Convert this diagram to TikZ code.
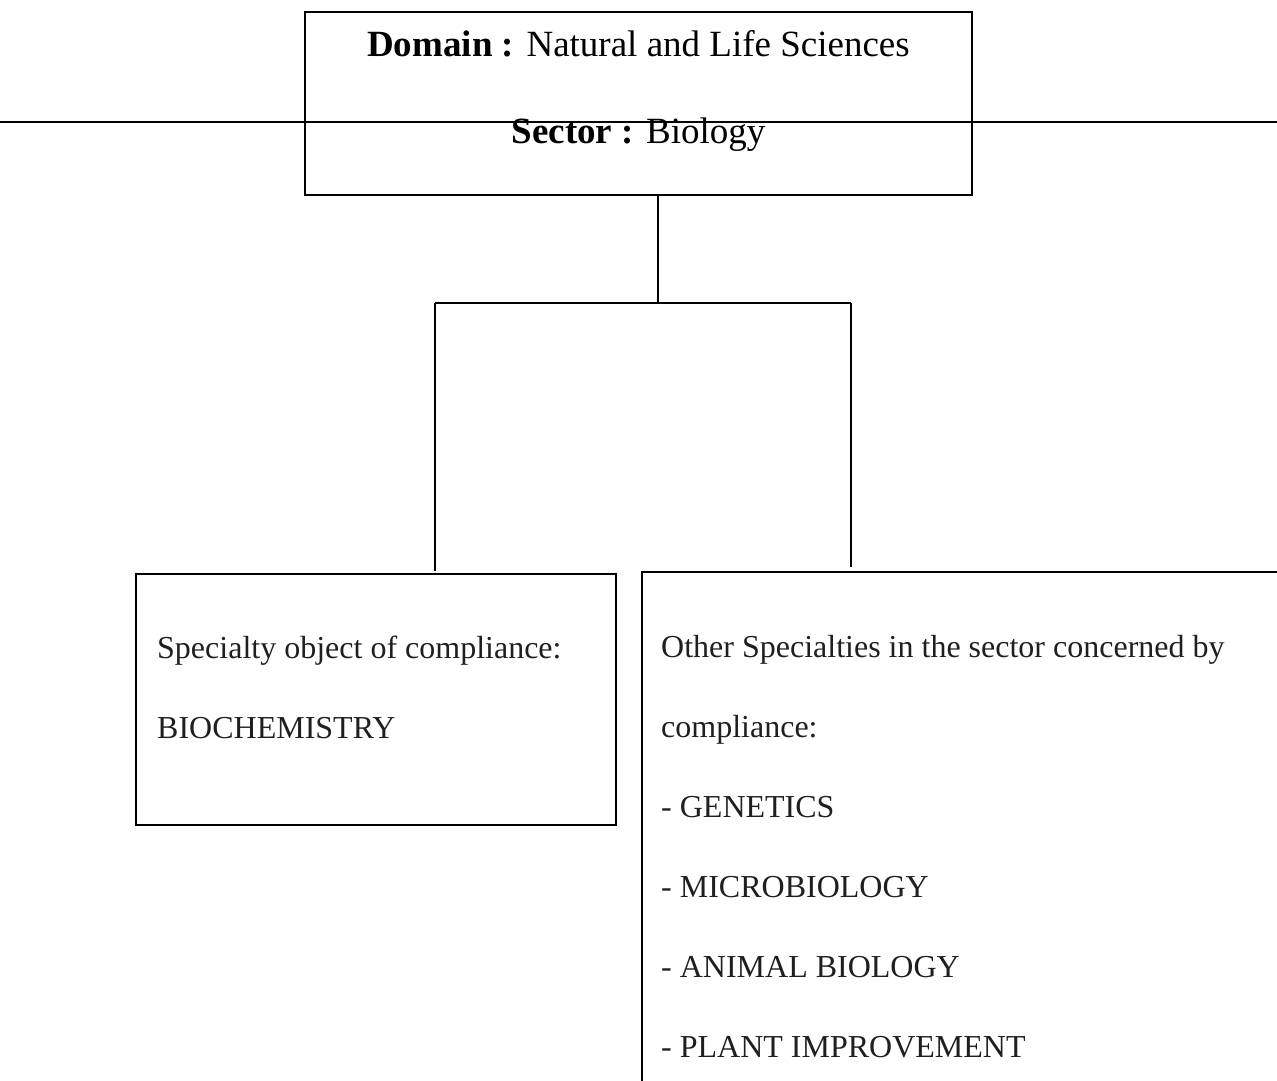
\documentclass[tikz,border=0pt]{standalone}
\usepackage{fontspec}
\setmainfont{Liberation Serif}
\begin{document}
\begin{tikzpicture}[x=1pt,y=-1pt,
  box/.style={draw, line width=1.8pt, inner sep=0pt},
  conn/.style={line width=1.8pt},
  big/.style={font=\fontsize{37}{44}\selectfont, anchor=base, inner sep=0pt},
  txt/.style={font=\fontsize{32}{38}\selectfont, anchor=base west, inner sep=0pt, text=black!88}]
\useasboundingbox (0,0) rectangle (1277,1081);
\clip (0,0) rectangle (1277,1081);
% top box
\node[box, minimum width=667pt, minimum height=183pt] (top) at (638.5,103.5) {};
\node[big] (dom) at (638.5,57) {\textbf{Domain :} Natural and Life Sciences};
\node[big] (sec) at (638.5,143) {\textbf{Sector :} Biology};
\coordinate (hl) at (0,122);
\coordinate (hr) at (1277,122);
\draw[conn] (hl) -- (hr);
% lower boxes
\node[box, minimum width=480pt, minimum height=251pt] (left) at (376,699.5) {};
\node[box, minimum width=700pt, minimum height=600pt] (right) at (992,872) {};
% connectors
\coordinate (j) at (658,303);
\coordinate (jl) at (435,303);
\coordinate (jr) at (851,303);
\draw[conn] (top.south -| j) -- (j);
\draw[conn] (jl) -- (jr);
\draw[conn] (jl) -- ([yshift=2pt]jl |- left.north);
\draw[conn] (jr) -- ([yshift=4pt]jr |- right.north);
% left box text
\node[txt] (l1) at (157,658) {Specialty object of compliance:};
\node[txt] (l2) at (157,738) {BIOCHEMISTRY};
% right box text
\node[txt] (r1) at (661,657) {Other Specialties in the sector concerned by};
\node[txt] (r2) at (661,737) {compliance:};
\node[txt] (r3) at (661,817) {- GENETICS};
\node[txt] (r4) at (661,897) {- MICROBIOLOGY};
\node[txt] (r5) at (661,977) {- ANIMAL BIOLOGY};
\node[txt] (r6) at (661,1057) {- PLANT IMPROVEMENT};
\end{tikzpicture}
\end{document}
